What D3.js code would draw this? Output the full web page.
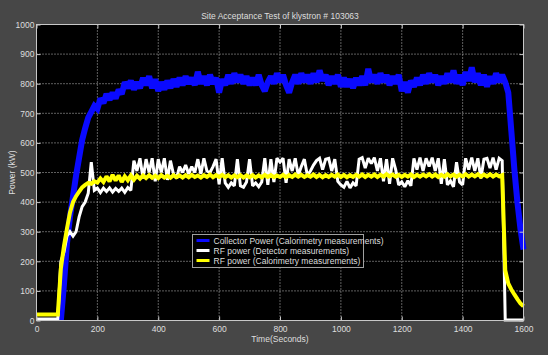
<!DOCTYPE html>
<html><head><meta charset="utf-8">
<script src="https://cdn.jsdelivr.net/npm/d3@7"></script>
<style>
html,body{margin:0;padding:0;background:#474747;}
svg{display:block;}
text{font-family:"Liberation Sans Narrow","Arial Narrow","Liberation Sans",Arial,sans-serif;}
</style></head><body>
<svg id="chart" width="548" height="355"></svg>
<script>
// ---- data ----
const titleText = "Site Acceptance Test of klystron # 103063";
const xLabel = "Time(Seconds)";
const yLabel = "Power (kW)";
const xTicks = [0, 200, 400, 600, 800, 1000, 1200, 1400, 1600];
const yTicks = [0, 100, 200, 300, 400, 500, 600, 700, 800, 900, 1000];
const timeStep = 10; // seconds between samples, first sample at t = 0
const seriesNames = [
  "Collector Power (Calorimetry measurements)",
  "RF power (Detector measurements)",
  "RF power (Calorimetry measurements)"
];
const collectorPower = [
  null,null,null,null,null,null,null,null,0,120,
  260,350,420,490,550,610,650,685,705,725,
  715,750,735,765,745,770,750,780,765,805,
  785,810,780,805,785,820,795,825,785,815,
  775,805,780,810,785,815,790,820,795,825,
  800,820,795,840,800,825,795,830,800,820,
  770,815,795,830,800,835,805,830,800,825,
  795,820,795,830,795,775,805,825,800,835,
  805,830,795,770,805,830,800,835,805,830,
  800,835,805,845,810,830,795,825,800,830,
  790,820,790,815,785,820,795,825,795,850,
  805,830,800,835,805,830,795,825,800,830,
  775,805,770,810,790,820,795,830,800,835,
  805,830,795,825,800,835,805,845,800,830,
  795,840,810,855,805,835,795,830,790,825,
  800,835,805,830,805,770,640,510,400,310,
  240
];
const rfDetector = [
  5,5,5,5,5,5,5,5,200,230,
  285,300,285,300,350,385,400,430,535,440,
  447,432,447,436,448,434,446,436,447,433,
  449,440,540,505,548,480,545,500,548,470,
  545,500,548,475,540,495,480,520,500,525,
  495,520,500,545,495,548,505,500,520,545,
  460,548,465,450,465,455,545,455,450,468,
  545,455,465,452,468,548,458,545,468,548,
  535,548,465,545,505,548,490,520,545,490,
  505,525,540,548,510,545,548,505,545,470,
  458,450,470,448,465,455,545,550,515,548,
  530,550,505,548,470,545,462,548,510,458,
  468,452,472,455,548,510,550,505,548,520,
  550,505,548,462,545,458,472,452,535,468,
  458,548,510,550,505,548,480,545,548,515,
  550,510,548,540,2,2,2,2,2,2,
  2
];
const rfCalorimetry = [
  20,20,20,20,20,20,20,20,175,250,
  310,365,400,420,435,450,458,465,462,470,
  466,480,468,487,470,492,473,490,468,487,
  474,490,476,489,479,490,481,491,482,489,
  481,491,483,489,482,491,484,490,483,491,
  484,492,485,490,483,491,485,493,484,491,
  485,492,484,491,483,490,484,491,483,490,
  484,491,483,490,484,492,485,491,484,490,
  485,492,484,491,485,493,486,492,485,491,
  486,493,485,492,484,491,485,492,486,493,
  485,492,484,491,485,492,486,493,485,492,
  486,493,485,492,486,494,487,493,486,492,
  485,492,486,493,485,492,486,493,487,494,
  486,493,485,492,486,494,487,493,486,492,
  487,494,486,493,487,494,486,493,487,494,
  486,493,487,491,170,125,105,88,72,58,
  48
];
const seriesColors = ["#0a0aff", "#ffffff", "#ffff00"];
const seriesWidths = [6, 3, 4];

// ---- drawing ----
const svg = d3.select("#chart");
const W = 548, H = 355;
const L = 36.5, R = 523.5, T = 24.5, B = 320.5;
const x = d3.scaleLinear().domain([0, 1600]).range([L, R]);
const y = d3.scaleLinear().domain([0, 1000]).range([B, T]);
const axisCol = "#c8c8c8", textCol = "#dedede";

svg.append("rect").attr("width", W).attr("height", H).attr("fill", "#474747");
svg.append("rect").attr("x", L).attr("y", T).attr("width", R - L).attr("height", B - T).attr("fill", "#000");

// grid
const g = svg.append("g");
g.selectAll(".gx").data(xTicks.slice(1, -1)).enter().append("line")
  .attr("x1", d => x(d)).attr("x2", d => x(d)).attr("y1", T).attr("y2", B)
  .attr("stroke", "#bdbdbd").attr("stroke-width", 1).attr("stroke-dasharray", "1,2");
g.selectAll(".gy").data(yTicks.slice(1, -1)).enter().append("line")
  .attr("y1", d => y(d)).attr("y2", d => y(d)).attr("x1", L).attr("x2", R)
  .attr("stroke", "#bdbdbd").attr("stroke-width", 1).attr("stroke-dasharray", "1,2");

// series
const allSeries = [collectorPower, rfDetector, rfCalorimetry];
const line = d3.line()
  .defined(d => d != null)
  .x((d, i) => x(i * timeStep))
  .y(d => y(d));
const plot = svg.append("g");
allSeries.forEach((s, k) => {
  plot.append("path").datum(s)
    .attr("d", line)
    .attr("fill", "none")
    .attr("stroke", seriesColors[k])
    .attr("stroke-width", seriesWidths[k])
    .attr("stroke-linejoin", "miter")
    .attr("stroke-miterlimit", 2);
});

// axes
function styleAxis(sel) {
  sel.select(".domain").remove();
  sel.selectAll(".tick line").attr("stroke", axisCol);
  sel.selectAll(".tick text").attr("fill", textCol).style("font-size", "8.5px")
    .style("font-family", '"Liberation Sans Narrow","Arial Narrow","Liberation Sans",Arial,sans-serif');
}
svg.append("g").attr("transform", `translate(0,${B})`)
  .call(d3.axisBottom(x).tickValues(xTicks).tickSize(-4).tickPadding(5).tickFormat(d3.format("d")))
  .call(styleAxis);
svg.append("g").attr("transform", `translate(0,${T})`)
  .call(d3.axisTop(x).tickValues(xTicks).tickSize(-4).tickFormat(""))
  .call(styleAxis);
svg.append("g").attr("transform", `translate(${L},0)`)
  .call(d3.axisLeft(y).tickValues(yTicks).tickSize(-4).tickPadding(2).tickFormat(d3.format("d")))
  .call(styleAxis);
svg.append("g").attr("transform", `translate(${R},0)`)
  .call(d3.axisRight(y).tickValues(yTicks).tickSize(-4).tickFormat(""))
  .call(styleAxis);
svg.append("rect").attr("x", L).attr("y", T).attr("width", R - L).attr("height", B - T)
  .attr("fill", "none").attr("stroke", axisCol).attr("stroke-width", 1);

// titles
svg.append("text").attr("x", (L + R) / 2).attr("y", 18.5).attr("text-anchor", "middle")
  .attr("fill", textCol).style("font-size", "8.5px").text(titleText);
svg.append("text").attr("x", (L + R) / 2).attr("y", 342).attr("text-anchor", "middle")
  .attr("fill", textCol).style("font-size", "8.5px").text(xLabel);
svg.append("text").attr("transform", `translate(15,${(T + B) / 2}) rotate(-90)`).attr("text-anchor", "middle")
  .attr("fill", textCol).style("font-size", "8.5px").text(yLabel);

// legend
const lg = svg.append("g").attr("transform", "translate(192.5,234.5)");
lg.append("rect").attr("width", 171).attr("height", 33).attr("fill", "#000").attr("stroke", "#a0a0a0");
seriesNames.forEach((n, k) => {
  const yy = 6 + k * 10;
  lg.append("line").attr("x1", 4).attr("x2", 17).attr("y1", yy).attr("y2", yy)
    .attr("stroke", seriesColors[k]).attr("stroke-width", 3);
  lg.append("text").attr("x", 21).attr("y", yy + 3).attr("fill", textCol)
    .style("font-size", "8.5px").text(n);
});
</script>
</body></html>
